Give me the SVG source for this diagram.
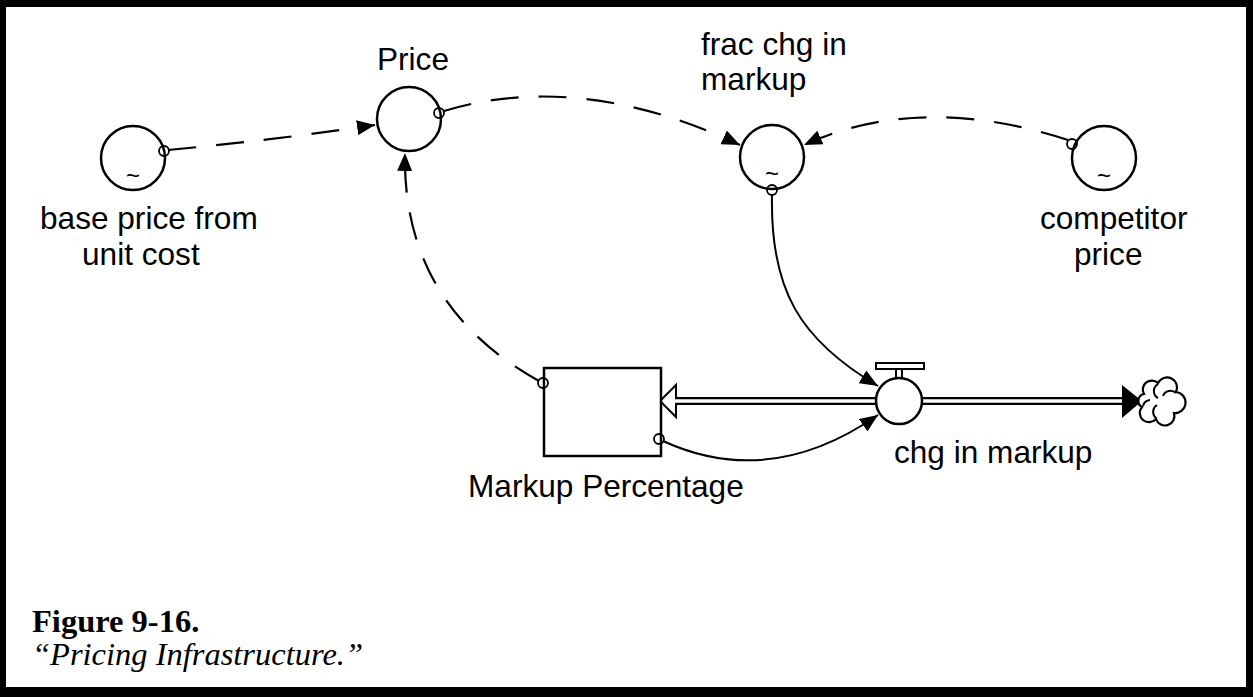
<svg xmlns="http://www.w3.org/2000/svg" width="1253" height="697" viewBox="0 0 1253 697">
<style>
.lbl{font-family:"Liberation Sans",Arial,sans-serif;font-size:31.6px;fill:#000}
.node{fill:#fff;stroke:#000;stroke-width:2.5}
.port{fill:none;stroke:#000;stroke-width:1.8}
.tilde{font-family:"Liberation Sans",Arial,sans-serif;font-size:24px;fill:#000;text-anchor:middle}
.dash{fill:none;stroke:#000;stroke-width:2.2;stroke-dasharray:28 20}
.solid{fill:none;stroke:#000;stroke-width:2}
.cap{font-family:"Liberation Serif","Times New Roman",serif;font-size:32.5px;fill:#000}
</style>
<defs>
<marker id="ah" viewBox="0 0 18 15" refX="18" refY="7.5" markerWidth="18" markerHeight="15" markerUnits="userSpaceOnUse" orient="auto">
<path d="M0,0 L18,7.5 L0,15 z" fill="#000"/>
</marker>
</defs>
<rect x="0" y="0" width="1253" height="697" fill="#000"/>
<rect x="6" y="7" width="1240" height="680" fill="#fff"/>

<g id="connectors">
<path class="dash" d="M168,150 Q275,140 375,125" marker-end="url(#ah)"/>
<path class="dash" d="M444,111 Q580,70 740,145" marker-end="url(#ah)"/>
<path class="dash" d="M1068,140 Q920,92 804,145" marker-end="url(#ah)"/>
<path class="dash" d="M539,381 Q402,305 405,153" marker-end="url(#ah)"/>
<path class="solid" d="M772,195 C770,290 800,340 878,386" marker-end="url(#ah)"/>
<path class="solid" d="M663,441 Q770,490 878,415" marker-end="url(#ah)"/>
</g>

<g id="flow-outflow">
<line x1="676" y1="401" x2="880" y2="401" stroke="#000" stroke-width="8"/>
<polygon points="660,401 676,385 676,417" fill="#fff" stroke="#000" stroke-width="2"/>
<line x1="670" y1="401" x2="880" y2="401" stroke="#fff" stroke-width="3.5"/>
<line x1="918" y1="401" x2="1124" y2="401" stroke="#000" stroke-width="8"/>
<line x1="918" y1="401" x2="1124" y2="401" stroke="#fff" stroke-width="3.5"/>
<polygon points="1122,385 1142,401 1122,418" fill="#000"/>
</g>

<g id="cloud">
<path d="M1144,394 A9,9 0 0 1 1158,383 A9,9 0 0 1 1176,392 A9,9 0 0 1 1174,413 A9,9 0 0 1 1156,419 A9,9 0 0 1 1142,407 A7,7 0 0 1 1144,394 z" fill="#fff" stroke="#000" stroke-width="2.2"/>
<path d="M1158,384 A8,8 0 0 0 1158,398 M1176,393 A8,8 0 0 0 1163,396 M1156,418 A8,8 0 0 1 1157,405 M1143,406 A8,8 0 0 1 1150,400" fill="none" stroke="#000" stroke-width="2"/>
</g>

<g id="base-price">
<circle class="node" cx="133" cy="158" r="32"/>
<circle class="port" cx="164" cy="151" r="5"/>
<text class="tilde" x="133" y="184">~</text>
<text class="lbl" x="40" y="229">base price from</text>
<text class="lbl" x="82" y="265">unit cost</text>
</g>

<g id="price">
<circle class="node" cx="409" cy="119" r="32"/>
<circle class="port" cx="439" cy="113" r="5"/>
<text class="lbl" x="377" y="70">Price</text>
</g>

<g id="frac-chg">
<circle class="node" cx="772" cy="157" r="32"/>
<circle class="port" cx="772" cy="190" r="5"/>
<text class="tilde" x="772" y="182">~</text>
<text class="lbl" x="701" y="55">frac chg in</text>
<text class="lbl" x="701" y="90">markup</text>
</g>

<g id="competitor-price">
<circle class="node" cx="1104" cy="158" r="32"/>
<circle class="port" cx="1072" cy="144" r="5"/>
<text class="tilde" x="1104" y="184">~</text>
<text class="lbl" x="1040" y="229">competitor</text>
<text class="lbl" x="1074" y="265">price</text>
</g>

<g id="markup-percentage">
<rect class="node" x="544" y="368" width="117" height="88"/>
<circle class="port" cx="543" cy="383" r="5"/>
<circle class="port" cx="659" cy="439" r="5"/>
<text class="lbl" x="468" y="497">Markup Percentage</text>
</g>

<g id="chg-in-markup">
<rect x="876" y="363" width="48" height="6" fill="#fff" stroke="#000" stroke-width="2"/>
<rect x="896" y="369" width="6" height="10" fill="#fff" stroke="#000" stroke-width="2"/>
<circle class="node" cx="899" cy="401" r="23"/>
<text class="lbl" x="894" y="463">chg in markup</text>
</g>

<g id="caption">
<text class="cap" x="32" y="632" font-weight="bold">Figure 9-16.</text>
<text class="cap" x="32" y="665" font-style="italic">“Pricing Infrastructure.”</text>
</g>
</svg>
